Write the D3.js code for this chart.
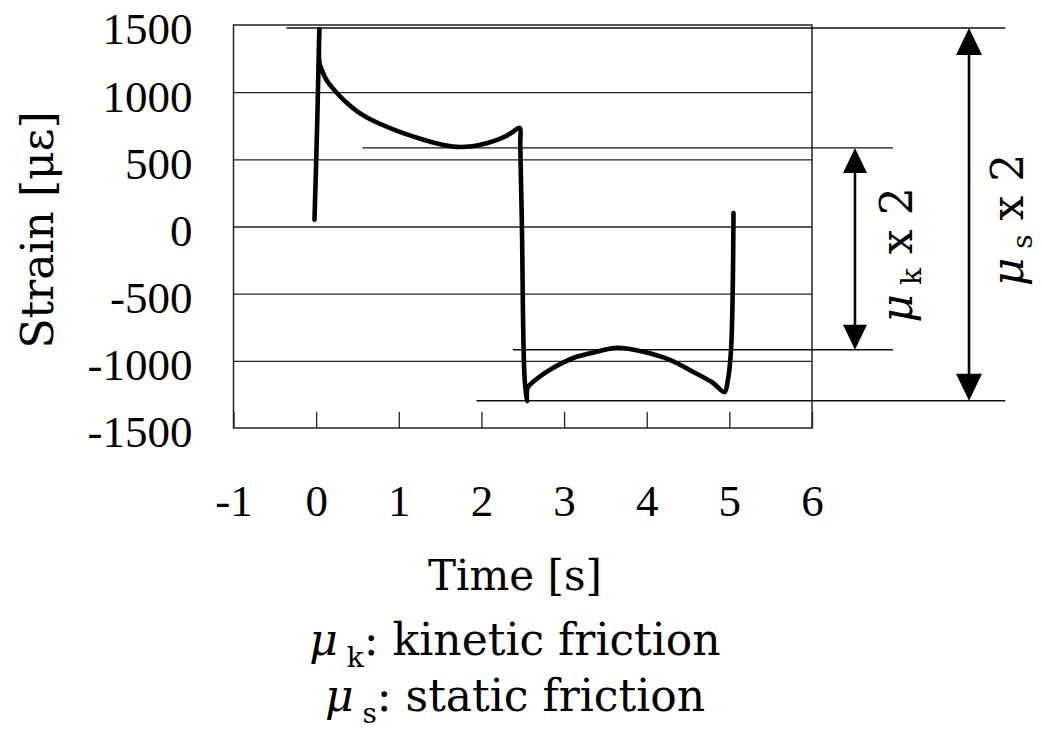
<!DOCTYPE html>
<html>
<head>
<meta charset="utf-8">
<script src="https://cdn.jsdelivr.net/npm/d3@7/dist/d3.min.js"></script>
<style>
  html, body { margin: 0; padding: 0; background: #fff; }
  svg { display: block; }
</style>
</head>
<body>
<svg id="chart" width="1042" height="732"></svg>
<script>
// ---- data ----
const timeTicks = [-1, 0, 1, 2, 3, 4, 5, 6];
const strainTicks = [1500, 1000, 500, 0, -500, -1000, -1500];
const gridValues = [1000, 500, 0, -500, -1000];

const time = [-0.02, 0.01, 0.04, 0.04, 0.08, 0.13, 0.20, 0.28, 0.38, 0.50, 0.62, 0.77, 0.98, 1.20, 1.45, 1.70, 1.89, 2.05, 2.19, 2.30, 2.38, 2.46, 2.47, 2.49, 2.52, 2.55, 2.56, 2.70, 2.83, 3.00, 3.15, 3.40, 3.64, 3.96, 4.28, 4.56, 4.80, 4.94, 4.98, 5.02, 5.05];
const strain = [50, 700, 1470, 1220, 1150, 1085, 1030, 975, 915, 855, 810, 765, 712, 665, 620, 593, 598, 618, 645, 674, 704, 734, 600, 0, -1100, -1300, -1200, -1120, -1066, -1010, -970, -932, -903, -932, -992, -1081, -1163, -1232, -1150, -920, 100];

// reference levels: static max / min, kinetic max / min
const staticLevels = [1478, -1297];
const kineticLevels = [585, -917];

// ---- layout ----
const svg = d3.select("#chart");
const x = d3.scaleLinear().domain([-1, 6]).range([233.5, 812]);
const y = d3.scaleLinear().domain([-1500, 1500]).range([428, 25]);

const numFont = "'Liberation Serif', 'Times New Roman', serif";
const txtFont = "'DejaVu Serif', serif";

// gridlines
svg.append("g")
  .attr("transform", `translate(${x(-1)},0)`)
  .call(d3.axisLeft(y).tickValues(gridValues).tickSize(-(x(6) - x(-1))).tickFormat(""))
  .call(g => g.select(".domain").remove())
  .call(g => g.selectAll(".tick line").attr("stroke", "#222").attr("stroke-width", 1.3));

// frame
svg.append("rect")
  .attr("x", x(-1)).attr("y", y(1500))
  .attr("width", x(6) - x(-1)).attr("height", y(-1500) - y(1500))
  .attr("fill", "none").attr("stroke", "#222").attr("stroke-width", 1.5);

// x axis
svg.append("g")
  .attr("transform", `translate(0,${y(-1500)})`)
  .call(d3.axisBottom(x).tickValues(timeTicks).tickSizeInner(-16).tickSizeOuter(0)
        .tickPadding(56).tickFormat(d => String(d)))
  .call(g => g.select(".domain").remove())
  .call(g => g.selectAll(".tick line").attr("stroke", "#222").attr("stroke-width", 1.3))
  .call(g => g.selectAll(".tick text").attr("fill", "#000")
        .style("font-family", numFont).style("font-size", "45px"));

// y axis labels
svg.append("g")
  .attr("transform", `translate(${x(-1)},0)`)
  .call(d3.axisLeft(y).tickValues(strainTicks).tickSize(0).tickPadding(41)
        .tickFormat(d => String(d)))
  .call(g => g.select(".domain").remove())
  .call(g => g.selectAll(".tick text").attr("fill", "#000").attr("dy", "0.42em")
        .style("font-family", numFont).style("font-size", "45px"));

// reference lines
function hline(v, t0, t1) {
  svg.append("line")
    .attr("x1", x(t0)).attr("x2", x(t1))
    .attr("y1", y(v)).attr("y2", y(v))
    .attr("stroke", "#111").attr("stroke-width", 1.4);
}
hline(staticLevels[0], -0.36, 8.34);
hline(kineticLevels[0], 0.56, 6.98);
hline(kineticLevels[1], 2.38, 6.98);
hline(staticLevels[1], 1.94, 8.34);

// strain curve
const pts = time.map((t, i) => [t, strain[i]]);
svg.append("path")
  .datum(pts)
  .attr("d", d3.line().x(d => x(d[0])).y(d => y(d[1])).curve(d3.curveCatmullRom.alpha(0.5)))
  .attr("fill", "none").attr("stroke", "#000").attr("stroke-width", 4.6)
  .attr("stroke-linejoin", "round").attr("stroke-linecap", "round");

// double arrows
function dblArrow(t, vTop, vBot, headLen, headHalf) {
  const cx = x(t), yt = y(vTop), yb = y(vBot);
  svg.append("line")
    .attr("x1", cx).attr("x2", cx).attr("y1", yt + headLen - 2).attr("y2", yb - headLen + 2)
    .attr("stroke", "#000").attr("stroke-width", 2.6);
  svg.append("path")
    .attr("d", `M${cx},${yt} L${cx - headHalf},${yt + headLen} L${cx + headHalf},${yt + headLen} Z`)
    .attr("fill", "#000");
  svg.append("path")
    .attr("d", `M${cx},${yb} L${cx - headHalf},${yb - headLen} L${cx + headHalf},${yb - headLen} Z`)
    .attr("fill", "#000");
}
dblArrow(6.52, kineticLevels[0], kineticLevels[1], 25, 12);
dblArrow(7.90, staticLevels[0], staticLevels[1], 27, 13);

// rotated mu labels
function muLabel(px, py, sub) {
  const t = svg.append("text")
    .attr("transform", `translate(${px},${py}) rotate(-90)`)
    .attr("text-anchor", "middle")
    .style("font-family", txtFont).style("font-size", "44px").attr("fill", "#000");
  t.append("tspan").style("font-style", "italic").text("μ");
  t.append("tspan").attr("dy", 9).style("font-size", "28px").text(" " + sub);
  t.append("tspan").attr("dy", -9).text(" x 2");
}
muLabel(912, 255, "k");
muLabel(1023, 220, "s");

// axis titles
svg.append("text")
  .attr("transform", "translate(53,230) rotate(-90)")
  .attr("text-anchor", "middle")
  .style("font-family", txtFont).style("font-size", "44px").attr("fill", "#000")
  .text("Strain [με]");

svg.append("text")
  .attr("x", 515).attr("y", 590)
  .attr("text-anchor", "middle")
  .style("font-family", txtFont).style("font-size", "42px").attr("fill", "#000")
  .text("Time [s]");

// legend
function legendLine(py, sub, label) {
  const t = svg.append("text")
    .attr("x", 515).attr("y", py)
    .attr("text-anchor", "middle")
    .style("font-family", txtFont).style("font-size", "44px").attr("fill", "#000");
  t.append("tspan").style("font-style", "italic").text("μ");
  t.append("tspan").attr("dy", 12).style("font-size", "28px").text(" " + sub);
  t.append("tspan").attr("dy", -12).text(": " + label);
}
legendLine(655, "k", "kinetic friction");
legendLine(711, "s", "static friction");
</script>
</body>
</html>
